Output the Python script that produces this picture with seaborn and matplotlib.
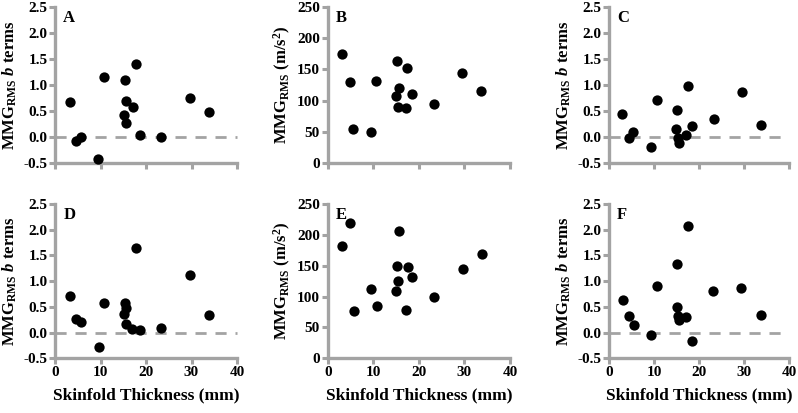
import numpy as np
import pandas as pd
import matplotlib
matplotlib.use("Agg")
import matplotlib.pyplot as plt
import seaborn as sns

# ---- data ----
a_x = [3.2, 4.7, 5.7, 9.5, 10.8, 15.3, 15.1, 15.7, 15.6, 17.2, 17.7, 18.6, 23.3, 29.6, 33.8]
a_y = [0.68, -0.08, 0.00, -0.43, 1.15, 1.10, 0.42, 0.70, 0.26, 0.57, 1.40, 0.03, 0.00, 0.75, 0.48]

b_x = [3.2, 4.8, 5.6, 9.5, 10.7, 15.3, 14.9, 15.6, 15.4, 17.2, 17.5, 18.4, 23.3, 29.5, 33.6]
b_y = [175, 130, 54, 49, 131, 163, 108, 120, 89, 88, 152, 110, 95, 145, 116]

c_x = [2.9, 4.5, 5.4, 9.4, 10.6, 15.1, 14.9, 15.3, 15.5, 17.0, 17.5, 18.5, 23.3, 29.5, 33.8]
c_y = [0.45, -0.02, 0.09, -0.20, 0.71, 0.52, 0.15, -0.02, -0.12, 0.03, 0.98, 0.22, 0.35, 0.86, 0.23]

d_x = [3.2, 4.6, 5.7, 9.6, 10.8, 15.1, 15.3, 15.7, 15.5, 17.0, 17.8, 18.6, 23.4, 29.6, 33.9]
d_y = [0.71, 0.27, 0.21, -0.28, 0.58, 0.36, 0.58, 0.48, 0.16, 0.07, 1.65, 0.05, 0.08, 1.11, 0.34]

e_x = [3.2, 4.8, 5.7, 9.5, 10.9, 15.0, 15.3, 15.5, 15.6, 17.1, 17.6, 18.6, 23.3, 29.6, 33.8]
e_y = [182, 219, 76, 113, 84, 109, 150, 125, 206, 79, 148, 131, 100, 144, 169]

f_x = [3.0, 4.5, 5.5, 9.4, 10.7, 15.0, 15.1, 15.3, 15.6, 17.0, 17.5, 18.5, 23.2, 29.4, 33.7]
f_y = [0.63, 0.32, 0.15, -0.05, 0.90, 0.49, 1.34, 0.33, 0.24, 0.30, 2.08, -0.16, 0.81, 0.87, 0.34]

letters = ["A", "B", "C", "D", "E", "F"]
x_ticks = [0, 10, 20, 30, 40]
b_ticks = [-0.5, 0.0, 0.5, 1.0, 1.5, 2.0, 2.5]
acc_ticks = [0, 50, 100, 150, 200, 250]
x_label = "Skinfold Thickness (mm)"
ylab_b = r"MMG$_{\mathrm{RMS}}$ $\mathit{b}$ terms"
ylab_acc = r"MMG$_{\mathrm{RMS}}$ (m/s$^{2}$)"

sns.set_theme(style="ticks")
plt.rcParams["font.family"] = ["Liberation Serif", "DejaVu Serif"]
plt.rcParams["font.weight"] = "bold"
plt.rcParams["text.color"] = "black"
plt.rcParams["axes.labelcolor"] = "black"
plt.rcParams["mathtext.fontset"] = "custom"
plt.rcParams["mathtext.rm"] = "Liberation Serif:bold"
plt.rcParams["mathtext.it"] = "Liberation Serif:bold:italic"
plt.rcParams["mathtext.bf"] = "Liberation Serif:bold"

GRAY = "#a3a3a3"
TICKFONT = dict(fontsize=11, fontweight="bold", family="Liberation Serif", color="black")
fig = plt.figure(figsize=(7.98, 4.13), dpi=100)

panels = [
    (a_x, a_y, "b"), (b_x, b_y, "acc"), (c_x, c_y, "b"),
    (d_x, d_y, "b"), (e_x, e_y, "acc"), (f_x, f_y, "b"),
]
lefts = [55 / 798, 327.7 / 798, 609 / 798]
widths = [182 / 798, 182.3 / 798, 180 / 798]
bottoms = [250 / 413, 54.7 / 413]
heights = [156 / 413, 154.3 / 413]

for i, (xs, ys, kind) in enumerate(panels):
    r, c = divmod(i, 3)
    ax = fig.add_axes([lefts[c], bottoms[r], widths[c], heights[r]])
    df = pd.DataFrame({"x": xs, "y": ys})
    if kind == "b":
        ax.plot([0, 40], [0, 0], ls=(0, (4, 3.2)), color=GRAY, lw=2, zorder=1, clip_on=False)
    sns.scatterplot(data=df, x="x", y="y", ax=ax, color="black", s=55,
                    edgecolor="black", linewidth=0, zorder=3, clip_on=False)
    ax.set_xlim(0, 40)
    if r == 0:
        ax.set_xticks(x_ticks, labels=[""] * len(x_ticks))
        ax.set_xlabel("")
    else:
        ax.set_xticks(x_ticks, labels=[str(t) for t in x_ticks], **TICKFONT)
        ax.set_xlabel(x_label, fontsize=12.5, fontweight="bold", labelpad=6, color="black")
    if kind == "b":
        ax.set_ylim(-0.5, 2.5)
        ax.set_yticks(b_ticks, labels=[f"{t:.1f}" for t in b_ticks], **TICKFONT)
        ax.set_ylabel(ylab_b, fontsize=12, fontweight="bold", labelpad=3, color="black")
    else:
        ax.set_ylim(0, 250)
        ax.set_yticks(acc_ticks, labels=[str(t) for t in acc_ticks], **TICKFONT)
        ax.set_ylabel(ylab_acc, fontsize=12, fontweight="bold", labelpad=3, color="black")
    for side in ["top", "right"]:
        ax.spines[side].set_visible(False)
    for side in ["left", "bottom"]:
        ax.spines[side].set_color(GRAY)
        ax.spines[side].set_linewidth(2.4)
    ax.tick_params(axis="both", colors=GRAY, width=2.2, length=4,
                   labelcolor="black", pad=1.5)
    ax.text(0.045, 0.98, letters[i], transform=ax.transAxes, fontsize=12,
            fontweight="bold", va="top", ha="left", color="black")

fig.savefig("out.png", dpi=100)
